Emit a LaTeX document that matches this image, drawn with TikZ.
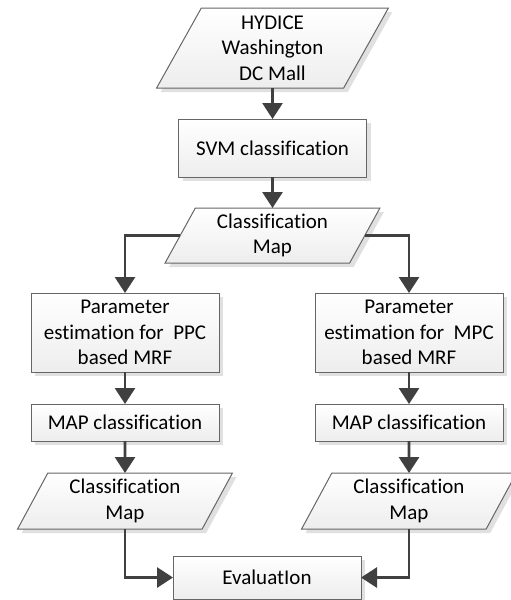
\documentclass[tikz,border=0pt]{standalone}
\usepackage{fontspec}
\setmainfont{Carlito}[Ligatures=NoCommon]
\usetikzlibrary{shapes.geometric, arrows.meta, positioning, shadows}

\begin{document}
\begin{tikzpicture}[
    x=1pt, y=1pt,
    node distance=31pt,
    font=\fontsize{21}{25.5}\selectfont,
    process/.style={rectangle, draw=black!60, line width=1pt, top color=white, bottom color=black!7, minimum width=188pt, inner sep=1pt, outer sep=0pt, align=center, drop shadow={shadow xshift=4pt, shadow yshift=-4pt, fill=black!12, opacity=1}},
    data/.style={trapezium, trapezium left angle=64, trapezium right angle=116, trapezium stretches=true, draw=black!60, line width=1pt, top color=white, bottom color=black!7, minimum width=215pt, inner sep=1pt, outer sep=0pt, align=center, drop shadow={shadow xshift=4pt, shadow yshift=-4pt, fill=black!12, opacity=1}},
    arrow/.style={line width=2.8pt, draw=black!75, -{Triangle[width=20pt,length=16pt]}}
]
    \useasboundingbox (0,0) rectangle (511,-600);

    \node[data, minimum width=232pt, minimum height=80pt] (hydice) at (272.5,-48) {HYDICE\\Washington\\DC Mall};
    \node[process, minimum height=58pt, below=of hydice] (svm) {SVM classification};
    \node[data, minimum height=55pt, below=of svm] (map) {Classification\\Map};

    \node[process, minimum height=79pt, below=30pt of map, xshift=-147.5pt] (ppc) {Parameter\\estimation for\ \ PPC\\based MRF};
    \node[process, minimum height=37pt, below=32pt of ppc] (ppcmap) {MAP classification};
    \node[data, minimum height=56pt, below=32pt of ppcmap] (ppcres) {Classification\\Map};

    \node[process, minimum height=79pt, below=30pt of map, xshift=136.5pt] (mpc) {Parameter\\estimation for\ \ MPC\\based MRF};
    \node[process, minimum height=37pt, below=32pt of mpc] (mpcmap) {MAP classification};
    \node[data, minimum height=56pt, below=32pt of mpcmap] (mpcres) {Classification\\Map};

    \node[process, minimum height=43pt, below=27pt of ppcres, xshift=142pt] (eval) {EvaluatIon};

    % Arrows
    \draw[arrow] (hydice) -- (svm);
    \draw[arrow] (svm) -- (map);
    \draw[arrow] (map.west) -| (ppc.north);
    \draw[arrow] (map.east) -| (mpc.north);
    \draw[arrow] (ppc) -- (ppcmap);
    \draw[arrow] (ppcmap) -- (ppcres);
    \draw[arrow] (mpc) -- (mpcmap);
    \draw[arrow] (mpcmap) -- (mpcres);
    \draw[arrow] (ppcres.south) |- (eval.west);
    \draw[arrow] (mpcres.south) |- (eval.east);
\end{tikzpicture}
\end{document}
